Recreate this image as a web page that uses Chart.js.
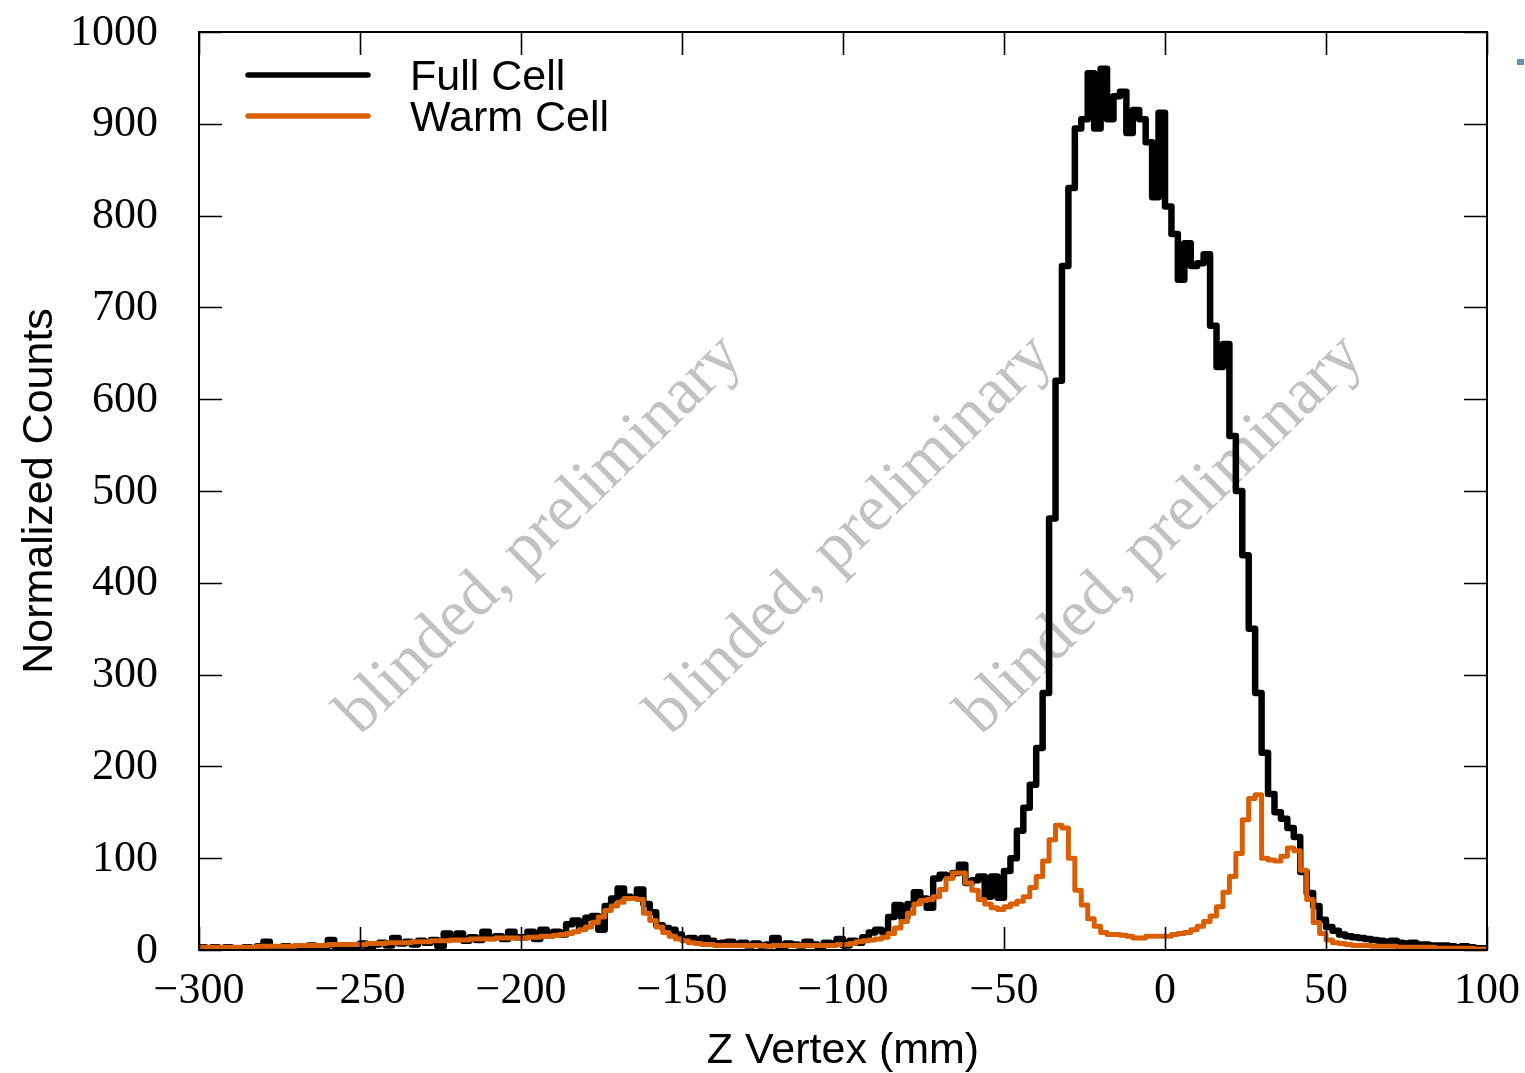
<!DOCTYPE html>
<html><head><meta charset="utf-8">
<script src="https://cdn.jsdelivr.net/npm/chart.js@4.4.1/dist/chart.umd.min.js"></script>
<style>html,body{margin:0;padding:0;background:#fff;overflow:hidden}#wrap{width:1525px;height:1073px;position:relative}</style>
</head><body><div id="wrap"><canvas id="c" width="1525" height="1073"></canvas></div>
<script>
// ---- data ----
const zMin = -300;          // first bin lower edge (mm)
const binWidth = 2;         // bin width (mm)
const seriesNames = ['Full Cell', 'Warm Cell'];
const seriesColors = ['#000000', '#d95f02'];
const xTicks = [-300, -250, -200, -150, -100, -50, 0, 50, 100];
const yTicks = [0, 100, 200, 300, 400, 500, 600, 700, 800, 900, 1000];
const xTitle = 'Z Vertex (mm)';
const yTitle = 'Normalized Counts';
const watermark = 'blinded, preliminary';

const fullCell = [
  3,2,3,1,3,2,1,3,2,4, 9,3,2,4,1,4,3,5,2,4,
  11,4,3,1,4,7,2,6,8,5, 13,7,9,6,10,8,11,4,18,12,
  18,10,14,11,20,13,15,12,20,14,
  14,20,12,22,16,20,17,28,32,24, 35,37,22,48,56,67,58,57,66,50, 41,27,24,22,17,
  12,13,9,13,10,7,8,9,6,8, 5,7,5,6,13,1,7,6,5,9, 6,4,8,7,12,
  5,10,8,14,19,22,20,36,49,36, 50,63,56,46,78,82,80,84,93,73,
  76,80,58,80,57,86,100,130,155,180, 220,280,470,620,745,830,895,905,955,895,
  960,905,930,935,890,915,905,880,820,912,
  810,780,730,770,745,748,758,680,635,660, 560,500,430,350,280,215,170,150,143,133,
  123,85,62,48,33,
  25,21,17,15,14,13,12,11,10,9, 10,8,7,8,6,6,5,5,5,4, 3,4,3,2,2
];
const warmCell = [
  3,3,3,3,3,3,3,3,3,4, 4,4,4,4,4,5,5,5,5,5, 6,6,6,6,6,6,7,7,7,8,
  8,8,8,9,9,9,10,10,10,11, 11,11,12,12,12,12,13,13,13,13,
  13,14,14,15,15,16,17,18,20,22, 25,30,36,43,48,52,56,56,55,40, 32,25,19,15,12,
  10,8,7,6,6,5,5,5,5,5, 5,5,5,4,5,5,5,5,5,5, 5,5,5,5,6,
  6,7,9,10,11,12,14,18,24,31, 40,50,54,55,58,66,78,84,84,73,
  65,55,50,46,44,47,50,53,58,68, 80,97,120,136,133,100,65,49,34,26,
  19,17,17,16,15,13,13,15,15,15,
  15,17,18,19,22,26,31,37,47,63, 80,105,142,165,169,100,98,97,102,111,
  108,87,55,30,18,
  11,8,7,6,5,5,5,4,4,4, 4,3,3,3,3,3,3,2,2,2, 2,2,2,1,1
];

function toSteps(vals) {
  const pts = vals.map((v, i) => ({x: zMin + i * binWidth, y: v}));
  pts.push({x: zMin + vals.length * binWidth, y: vals[vals.length - 1]});
  return pts;
}
const fmt = v => (v < 0 ? '\u2212' + Math.abs(v) : String(v));

const serif = "'Liberation Serif', 'DejaVu Serif', serif";
const sans = "'Liberation Sans', 'DejaVu Sans', sans-serif";

const decor = {
  id: 'decor',
  beforeDatasetsDraw(chart) {
    const {ctx, chartArea: a} = chart;
    ctx.save();
    ctx.fillStyle = '#c2c2c2';
    ctx.font = '66px ' + serif;
    ctx.textAlign = 'center';
    ctx.textBaseline = 'middle';
    const w = a.right - a.left;
    [0.265, 0.506, 0.747].forEach(f => {
      ctx.save();
      ctx.translate(a.left + w * f, 535);
      ctx.rotate(-44.5 * Math.PI / 180);
      ctx.fillText(watermark, 0, 0);
      ctx.restore();
    });
    ctx.restore();
  },
  afterDraw(chart) {
    const {ctx, chartArea: a, scales: {x, y}} = chart;
    ctx.save();
    // frame
    ctx.strokeStyle = '#000';
    ctx.lineWidth = 2;
    ctx.strokeRect(a.left, a.top, a.right - a.left, a.bottom - a.top);
    // inward ticks
    ctx.lineWidth = 1.6;
    const tl = 23;
    ctx.beginPath();
    xTicks.forEach(v => {
      const px = Math.round(x.getPixelForValue(v)) + 0.5;
      ctx.moveTo(px, a.bottom); ctx.lineTo(px, a.bottom - tl);
      ctx.moveTo(px, a.top); ctx.lineTo(px, a.top + tl);
    });
    yTicks.forEach(v => {
      const py = Math.round(y.getPixelForValue(v)) + 0.5;
      ctx.moveTo(a.left, py); ctx.lineTo(a.left + tl, py);
      ctx.moveTo(a.right, py); ctx.lineTo(a.right - tl, py);
    });
    ctx.stroke();
    // tick labels
    ctx.fillStyle = '#000';
    ctx.font = '44px ' + serif;
    ctx.textBaseline = 'middle';
    ctx.textAlign = 'center';
    xTicks.forEach(v => ctx.fillText(fmt(v), x.getPixelForValue(v), a.bottom + 41));
    ctx.textAlign = 'right';
    yTicks.forEach(v => ctx.fillText(fmt(v), a.left - 41, y.getPixelForValue(v) + 1));
    // legend
    ctx.font = '43px ' + sans;
    ctx.textAlign = 'left';
    ctx.textBaseline = 'alphabetic';
    chart.data.datasets.forEach((ds, i) => {
      const ly = 75 + i * 41;
      ctx.strokeStyle = ds.borderColor;
      ctx.lineWidth = 5.5;
      ctx.lineCap = 'round';
      ctx.beginPath(); ctx.moveTo(248, ly); ctx.lineTo(368, ly); ctx.stroke();
      ctx.fillStyle = '#000';
      ctx.fillText(ds.label, 410, ly + 15);
    });
    // axis titles
    ctx.fillStyle = '#000';
    ctx.font = '43px ' + sans;
    ctx.textAlign = 'center';
    ctx.fillText(xTitle, (a.left + a.right) / 2, 1063);
    ctx.save();
    ctx.translate(52, (a.top + a.bottom) / 2);
    ctx.rotate(-Math.PI / 2);
    ctx.fillText(yTitle, 0, 0);
    ctx.restore();
    // small marker at top right edge
    ctx.fillStyle = '#5d95b0';
    ctx.fillRect(1517, 59, 7, 6);
    ctx.restore();
  }
};

new Chart(document.getElementById('c'), {
  type: 'line',
  data: {
    datasets: [
      {label: seriesNames[0], data: toSteps(fullCell), borderColor: seriesColors[0], borderWidth: 6.5, order: 1},
      {label: seriesNames[1], data: toSteps(warmCell), borderColor: seriesColors[1], borderWidth: 5, order: 0}
    ].map(d => Object.assign(d, {stepped: 'before', pointRadius: 0, fill: false, borderJoinStyle: 'round', borderCapStyle: 'round', tension: 0}))
  },
  options: {
    responsive: false,
    animation: false,
    devicePixelRatio: 1,
    layout: {padding: {top: 32, right: 38, bottom: 0, left: 0}},
    plugins: {legend: {display: false}, tooltip: {enabled: false}},
    scales: {
      x: {
        type: 'linear', min: xTicks[0], max: xTicks[xTicks.length - 1],
        afterBuildTicks: s => { s.ticks = xTicks.map(v => ({value: v})); },
        afterFit: s => { s.height = 123; },
        grid: {display: false, drawTicks: false}, border: {display: false},
        ticks: {display: false}
      },
      y: {
        type: 'linear', min: yTicks[0], max: yTicks[yTicks.length - 1],
        afterBuildTicks: s => { s.ticks = yTicks.map(v => ({value: v})); },
        afterFit: s => { s.width = 199; },
        grid: {display: false, drawTicks: false}, border: {display: false},
        ticks: {display: false}
      }
    }
  },
  plugins: [decor]
});
</script></body></html>
